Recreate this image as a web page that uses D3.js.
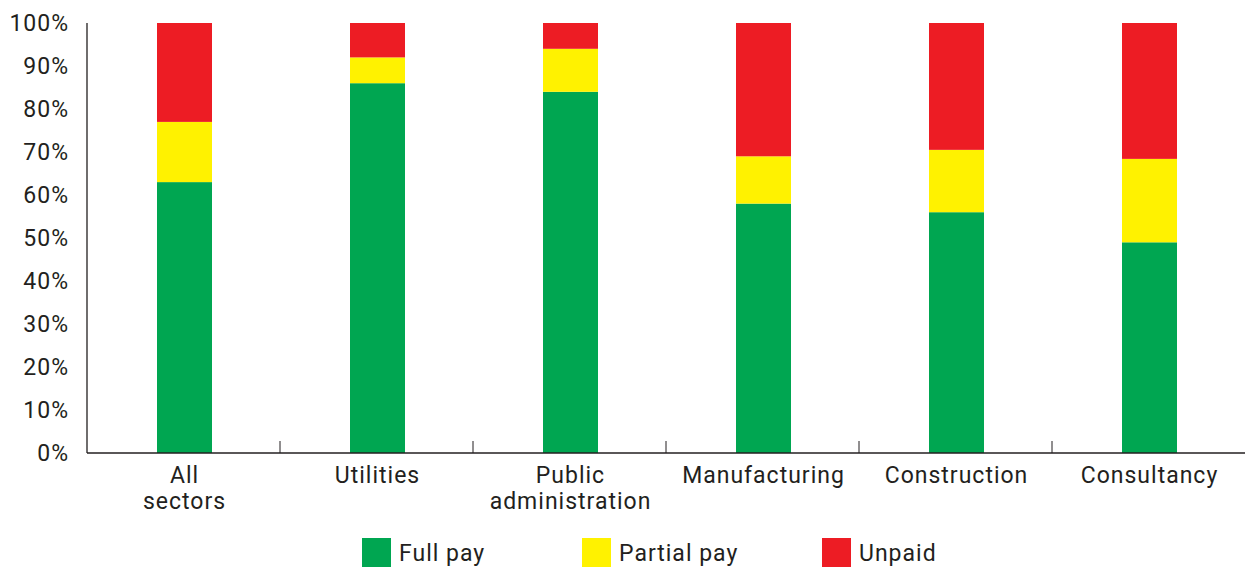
<!DOCTYPE html>
<html>
<head>
<meta charset="utf-8">
<script src="https://cdn.jsdelivr.net/npm/d3@7"></script>
<style>
  body { margin: 0; background: #fff; }
  text { font-family: Roboto, "DejaVu Sans", sans-serif; fill: #231f20; letter-spacing: 1px; }
</style>
</head>
<body>
<svg id="chart" width="1245" height="569"></svg>
<script>
// data (percent)
var sectors = [["All", "sectors"], ["Utilities"], ["Public", "administration"], ["Manufacturing"], ["Construction"], ["Consultancy"]];
var fullPay = [63, 86, 84, 58, 56, 49];
var partialPay = [14, 6, 10, 11, 14.5, 19.4];
var unpaid = [23, 8, 6, 31, 29.5, 31.6];
var seriesNames = ["Full pay", "Partial pay", "Unpaid"];
var seriesColors = ["#00a651", "#fff200", "#ed1c24"];
var yTicks = [0, 10, 20, 30, 40, 50, 60, 70, 80, 90, 100];

var svg = d3.select("#chart");
var m = { left: 87, right: 1245, top: 23, bottom: 453 };

var rows = sectors.map(function (s, i) {
  return { key: i, label: s, full: fullPay[i], partial: partialPay[i], unpaid: unpaid[i] };
});

var x = d3.scaleBand()
  .domain(rows.map(function (d) { return d.key; }))
  .range([m.left, m.right]);

var y = d3.scaleLinear().domain([0, 100]).range([m.bottom, m.top]);

var stack = d3.stack().keys(["full", "partial", "unpaid"]);
var layers = stack(rows);

var barW = 55;
var mid = function (k) { return x(k) + x.bandwidth() / 2 + 1; };

svg.selectAll(".layer")
  .data(layers)
  .enter().append("g")
    .attr("class", "layer")
    .attr("fill", function (d, i) { return seriesColors[i]; })
  .selectAll("rect")
  .data(function (d) { return d; })
  .enter().append("rect")
    .attr("x", function (d) { return mid(d.data.key) - barW / 2; })
    .attr("width", barW)
    .attr("y", function (d) { return y(d[1]); })
    .attr("height", function (d) { return y(d[0]) - y(d[1]); });

// y axis: line + labels, no ticks
svg.append("line")
  .attr("x1", m.left).attr("x2", m.left)
  .attr("y1", m.top).attr("y2", m.bottom)
  .attr("stroke", "#231f20").attr("stroke-width", 1.3);

svg.selectAll(".ylab")
  .data(yTicks)
  .enter().append("text")
    .attr("class", "ylab")
    .attr("x", 69)
    .attr("y", function (d) { return y(d); })
    .attr("dy", "0.35em")
    .attr("text-anchor", "end")
    .style("font-size", "23px")
    .text(function (d) { return d + "%"; });

// x axis line and separator ticks between categories
svg.append("line")
  .attr("x1", m.left).attr("x2", m.right)
  .attr("y1", m.bottom).attr("y2", m.bottom)
  .attr("stroke", "#231f20").attr("stroke-width", 1.3);

svg.selectAll(".sep")
  .data(rows.slice(1))
  .enter().append("line")
    .attr("class", "sep")
    .attr("x1", function (d) { return x(d.key); })
    .attr("x2", function (d) { return x(d.key); })
    .attr("y1", m.bottom - 12).attr("y2", m.bottom)
    .attr("stroke", "#231f20").attr("stroke-width", 1);

var xl = svg.selectAll(".xlab")
  .data(rows)
  .enter().append("text")
    .attr("class", "xlab")
    .attr("text-anchor", "middle")
    .style("font-size", "23px")
    .attr("transform", function (d) { return "translate(" + mid(d.key) + "," + 483 + ")"; });

xl.selectAll("tspan")
  .data(function (d) { return d.label; })
  .enter().append("tspan")
    .attr("x", 0)
    .attr("y", function (d, i) { return i * 26; })
    .text(function (d) { return d; });

// legend
var legX = [362, 582, 822];
var legend = svg.selectAll(".legend")
  .data(seriesNames)
  .enter().append("g")
    .attr("class", "legend")
    .attr("transform", function (d, i) { return "translate(" + legX[i] + ",538)"; });

legend.append("rect")
  .attr("width", 29)
  .attr("height", 29)
  .attr("fill", function (d, i) { return seriesColors[i]; });

legend.append("text")
  .attr("x", 37)
  .attr("y", 15)
  .attr("dy", "0.35em")
  .style("font-size", "23px")
  .text(function (d) { return d; });
</script>
</body>
</html>
